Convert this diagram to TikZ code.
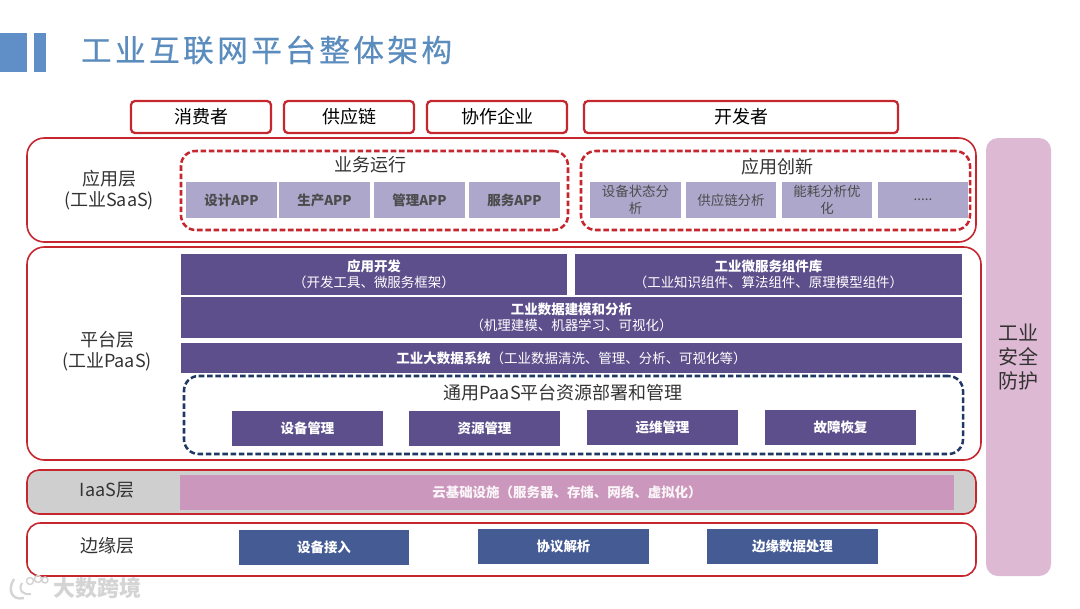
\documentclass[tikz,border=0pt]{standalone}
\usepackage{fontspec}
\setmainfont{Noto Sans CJK SC}
\usepackage{xcolor}
\usepackage{tikz}
\usetikzlibrary{positioning}
\definecolor{titleblue}{HTML}{5B8CBE}
\definecolor{barblue}{HTML}{5F8FC6}
\definecolor{linered}{HTML}{C6262E}
\definecolor{navyline}{HTML}{1F3864}
\definecolor{applilac}{HTML}{ADA7CC}
\definecolor{platpurple}{HTML}{5D4F8C}
\definecolor{edgeblue}{HTML}{445B94}
\definecolor{iaasgray}{HTML}{CFCFCF}
\definecolor{iaaspink}{HTML}{CC97BC}
\definecolor{safepink}{HTML}{DDB9D4}
\newcommand{\bigfont}{\fontsize{13.5}{16}\selectfont}
\newcommand{\smallfont}{\fontsize{10.1}{12.4}\selectfont}

\begin{document}
\begin{tikzpicture}[x=0.75pt, y=-0.75pt,
  size/.style 2 args={minimum width=#1*0.75pt, minimum height=#2*0.75pt},
  every node/.style={inner sep=0pt, outer sep=0pt, align=center},
  tag/.style={font=\bigfont, text=black!80},
  userbox/.style={draw=linered, line width=1.7pt, rounded corners=3pt, anchor=north west, font=\bigfont},
  layerbox/.style={draw=linered, line width=1.2pt, rounded corners=13pt, anchor=north west},
  dashbox/.style={draw=linered, line width=1.9pt, dash pattern=on 4.2pt off 2pt, rounded corners=11pt, anchor=north west},
  appbox/.style={fill=applilac, anchor=north west, font=\smallfont, text=black!70},
  platbox/.style={fill=platpurple, anchor=north west, font=\smallfont, text=white},
  edgebox/.style={fill=edgeblue, anchor=north west, font=\smallfont\bfseries, text=white}]
\useasboundingbox (0,0) rectangle (1080,608);
% title bar
\node[fill=barblue, size={27}{39}, anchor=north west] (bara) at (0,33) {};
\node[fill=barblue, size={12}{39}, right=5.25pt of bara] (barb) {};
\node[anchor=west, text=titleblue, font=\fontsize{23}{26}\selectfont\addfontfeature{LetterSpace=11,FakeBold=0.5}] (title) at (81,50) {工业互联网平台整体架构};
% top row
\node[userbox, size={140}{32}] (user1) at (131,101) {消费者};
\node[userbox, size={130}{32}] (user2) at (284,101) {供应链};
\node[userbox, size={140}{32}] (user3) at (427,101) {协作企业};
\node[userbox, size={314}{32}] (user4) at (584,101) {开发者};
% application layer
\node[layerbox, size={949}{104}] (saas) at (27,138) {};
\node[tag] (saastag) at (109,190) {应用层\\(工业SaaS)};
\node[appbox, size={91}{36}, font=\smallfont\bfseries] (run1) at (186,182) {设计APP};
\node[appbox, size={91}{36}, font=\smallfont\bfseries] (run2) at (279,182) {生产APP};
\node[appbox, size={91}{36}, font=\smallfont\bfseries] (run3) at (374,182) {管理APP};
\node[appbox, size={91}{36}, font=\smallfont\bfseries] (run4) at (469,182) {服务APP};
\node[appbox, size={91}{36}] (new1) at (590,182) {设备状态分\\析};
\node[appbox, size={90}{36}] (new2) at (686,182) {供应链分析};
\node[appbox, size={90}{36}] (new3) at (782,182) {能耗分析优\\化};
\node[appbox, size={90}{36}] (new4) at (878,182) {.....};
\node[dashbox, size={387}{79}] (runbox) at (181,151) {};
\node[dashbox, size={389}{79}] (newbox) at (581,151) {};
\node[tag] (runtag) at (370,165) {业务运行};
\node[tag] (newtag) at (777,167) {应用创新};
% platform layer
\node[layerbox, size={954}{213}] (paas) at (27,247) {};
\node[tag] (paastag) at (107,351) {平台层\\(工业PaaS)};
\node[platbox, size={386}{41}] (dev) at (181,254) {\textbf{应用开发}\\（开发工具、微服务框架）};
\node[platbox, size={387}{41}] (micro) at (575,254) {\textbf{工业微服务组件库}\\（工业知识组件、算法组件、原理模型组件）};
\node[platbox, size={781}{41}] (model) at (181,297) {\textbf{工业数据建模和分析}\\（机理建模、机器学习、可视化）};
\node[platbox, size={781}{30}] (bigdata) at (181,343) {\textbf{工业大数据系统}（工业数据清洗、管理、分析、可视化等）};
\node[dashbox, draw=navyline, size={779}{78}] (generic) at (184,376) {};
\node[tag] (generictag) at (563,393) {通用PaaS平台资源部署和管理};
\node[platbox, size={151}{35}, font=\smallfont\bfseries] (mgmt1) at (232,411) {设备管理};
\node[platbox, size={151}{35}, font=\smallfont\bfseries] (mgmt2) at (409,411) {资源管理};
\node[platbox, size={151}{35}, font=\smallfont\bfseries] (mgmt3) at (587,410) {运维管理};
\node[platbox, size={151}{35}, font=\smallfont\bfseries] (mgmt4) at (765,410) {故障恢复};
% iaas layer
\node[layerbox, fill=iaasgray, rounded corners=9pt, size={949}{44}] (iaas) at (27,470) {};
\node[tag] (iaastag) at (107,490) {IaaS层};
\node[anchor=north west, fill=iaaspink, size={774}{35}, font=\smallfont\bfseries, text=white!90!iaaspink] (cloud) at (180,475) {云基础设施（服务器、存储、网络、虚拟化）};
% edge layer
\node[layerbox, rounded corners=10pt, size={949}{53}] (edge) at (27,523) {};
\node[tag] (edgetag) at (107,546) {边缘层};
\node[edgebox, size={170}{35}] (edge1) at (239,530) {设备接入};
\node[edgebox, size={171}{35}] (edge2) at (478,529) {协议解析};
\node[edgebox, size={171}{35}] (edge3) at (707,529) {边缘数据处理};
% security column
\node[fill=safepink, rounded corners=9pt, size={65}{438}, anchor=north west] (safe) at (986,138) {};
\node[font=\fontsize{15}{18}\selectfont, text=black!80] (safetag) at (1018,357) {工业\\安全\\防护};
% watermark
\node[text=black!17, font=\fontsize{16.5}{18}\selectfont\bfseries] (mark) at (97,588) {大数跨境};
\draw[black!17, line width=1.8pt] (14,579) .. controls (7,590) and (12,601) .. (24,598);
\draw[black!17, line width=1.5pt] (22,583) .. controls (18,590) and (22,595) .. (31,594);
\draw[black!17, line width=1.1pt] (30,581) circle (3.5) (38,579) circle (3.5) (45,580) circle (3);
\end{tikzpicture}
\end{document}
